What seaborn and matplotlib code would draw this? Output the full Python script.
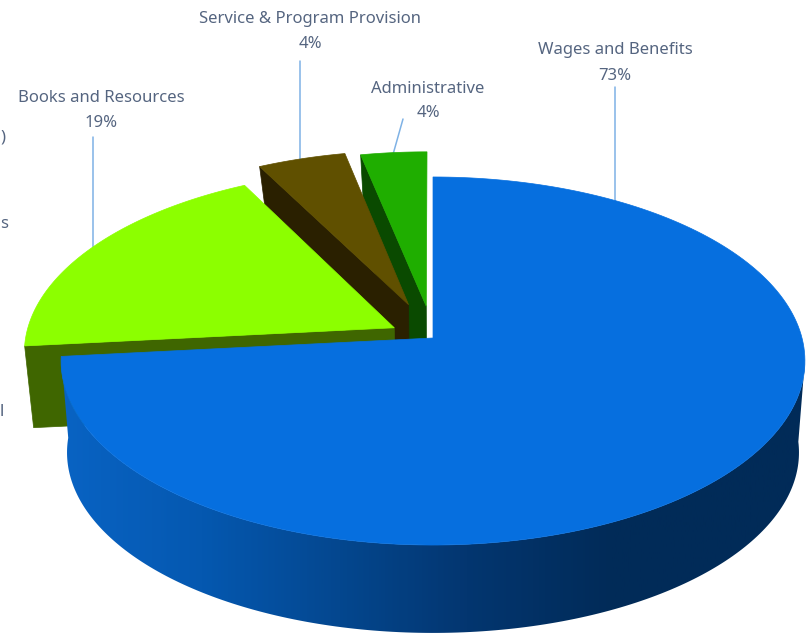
import numpy as np
import seaborn as sns
import matplotlib
matplotlib.use("Agg")
import matplotlib.pyplot as plt
from matplotlib.colors import LinearSegmentedColormap
from matplotlib.patches import Polygon

# data
categories = ["Wages and Benefits", "Books and Resources", "Service & Program Provision", "Administrative"]
values = [73.4, 18.9, 4.4, 3.3]
percent_labels = ["73%", "19%", "4%", "4%"]
explode = [0, 0.12, 0.2, 0.18]

top_colors = ["#066fdf", "#8cff00", "#605000", "#1fae00"]
side_colors = ["#0558b0", "#3f6600", "#2a2000", "#0a4a00"]
text_color = "#556580"
leader_color = "#7fb2e5"

sns.set_theme(style="white")
plt.rcParams["font.family"] = ["Noto Sans", "DejaVu Sans"]


# unit disc -> picture, with perspective. depth=0 is top face, depth=1 is bottom
def project(u, v, depth=0):
    if depth == 0:
        d = 1 + 0.125 * v
        return 433 + 369 * u / d, (338 - 138.9 * v) / d
    d = 1 + 0.18 * v
    return 433 + 360 * u / d, (420 - 99 * v) / d


def arc(start, end, off, depth=0):
    a = np.radians(np.linspace(start, end, 200))
    x, y = project(off[0] + np.sin(a), off[1] + np.cos(a), depth)
    return np.column_stack([x, y])


fig = plt.figure(figsize=(8.07, 6.35), dpi=100)
ax = fig.add_axes([0, 0, 1, 1])

# clockwise from the top
edges = np.concatenate([[0], np.cumsum(values)]) / np.sum(values) * 360

slices = []
for i in range(len(values)):
    mid = np.radians((edges[i] + edges[i + 1]) / 2)
    off = (explode[i] * np.sin(mid), explode[i] * np.cos(mid))
    slices.append((edges[i], edges[i + 1], off))

# leader lines go under the pie
ax.plot([615, 615], [87, 205], color=leader_color, lw=1.1, zorder=1)
ax.plot([93, 93], [137, 250], color=leader_color, lw=1.1, zorder=1)
ax.plot([300, 300], [61, 165], color=leader_color, lw=1.1, zorder=1)
ax.plot([403, 392], [119, 158], color=leader_color, lw=1.1, zorder=1)

# back slices first, blue last
z = 2
for i in [3, 2, 1]:
    start, end, off = slices[i]
    apex_top = project(off[0], off[1], 0)
    apex_bot = project(off[0], off[1], 1)
    c_top = arc(start, start, off, 0)[0]
    c_bot = arc(start, start, off, 1)[0]
    ax.add_patch(Polygon([apex_top, c_top, c_bot, apex_bot], fc=side_colors[i], ec=side_colors[i], lw=0.5, zorder=z))
    z += 1
    pts = np.vstack([[apex_top], arc(start, end, off, 0)])
    ax.add_patch(Polygon(pts, fc=top_colors[i], ec=top_colors[i], lw=0.5, zorder=z))
    z += 1

# blue side with the left to right shading
start, end, off = slices[0]
side = np.vstack([arc(97, end, off, 0), arc(97, end, off, 1)[::-1]])
side_patch = Polygon(side, fc="none", ec="none", zorder=z)
ax.add_patch(side_patch)
cmap = LinearSegmentedColormap.from_list(
    "blue_side",
    [(0, "#0a68cc"), (0.25, "#0558b0"), (0.42, "#04478f"), (0.58, "#033670"), (0.76, "#012b58"), (1, "#012b58")],
)
im = ax.imshow(np.linspace(0, 1, 400).reshape(1, -1), extent=[0, 807, 635, 0], aspect="auto", cmap=cmap, zorder=z)
im.set_clip_path(side_patch)
z += 1
pts = np.vstack([[project(0, 0, 0)], arc(start, end, off, 0)])
ax.add_patch(Polygon(pts, fc=top_colors[0], ec=top_colors[0], lw=0.5, zorder=z))

# labels
label_pos = [(615, 50, 76), (101, 98, 123), (310, 19, 44), (428, 89, 113)]
for name, pct, (x, y1, y2) in zip(categories, percent_labels, label_pos):
    ax.text(x, y1, name, ha="center", va="center", fontsize=12, color=text_color)
    ax.text(x, y2, pct, ha="center", va="center", fontsize=12, color=text_color)

# ends of labels cut off by the left edge
ax.text(0, 137, ")", ha="left", va="center", fontsize=12, color=text_color)
ax.text(0, 224, "s", ha="left", va="center", fontsize=12, color=text_color)
ax.text(0, 412, "l", ha="left", va="center", fontsize=12, color=text_color)

ax.set_xlim(0, 807)
ax.set_ylim(635, 0)
ax.axis("off")

fig.savefig("out.png", dpi=100)
